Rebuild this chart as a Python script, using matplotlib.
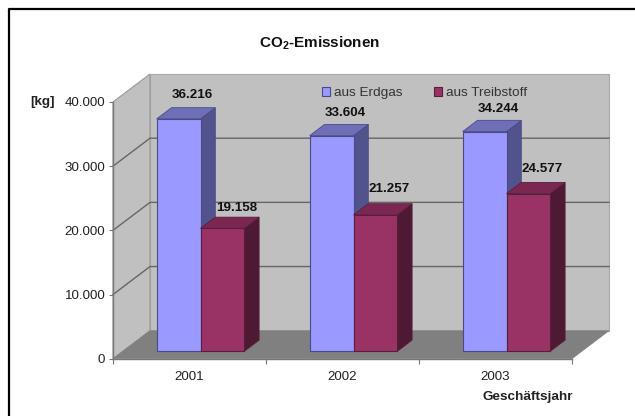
import matplotlib
matplotlib.use("Agg")
import matplotlib.pyplot as plt
from matplotlib.patches import Polygon, Patch
from matplotlib.lines import Line2D

plt.rcParams["font.family"] = ["Liberation Sans", "DejaVu Sans"]
plt.rcParams["mathtext.default"] = "regular"

# Daten
years = ["2001", "2002", "2003"]
erdgas = [36216, 33604, 34244]
treibstoff = [19158, 21257, 24577]
erdgas_labels = ["36.216", "33.604", "34.244"]
treibstoff_labels = ["19.158", "21.257", "24.577"]
y_ticks = [0, 10000, 20000, 30000, 40000]
y_tick_labels = ["0", "10.000", "20.000", "30.000", "40.000"]

# Schein-3D: Versatz der Rueckwand in Datenkoordinaten
DX = 0.2418
DY = 4361
D0, D1 = 0.264, 0.664  # Tiefe der Balken
GAP = 0.2218
WIDTH = 0.2863

# Abstand der Wertebeschriftung ueber dem Balken (Punkte)
blue_offset = [17.1, 16.3, 16.2]
red_offset = [14.6, 18.6, 17.6]


def proj(x, y, d):
    return (x + d * DX, y + d * DY)


fig = plt.figure(figsize=(6.35, 4.16), dpi=100, facecolor="white")
ax = fig.add_axes([113 / 635, (416 - 358.7) / 416, 459 / 635, 256.7 / 416])
ax.set_xlim(0, 3)
ax.set_ylim(0, 40000)
ax.patch.set_visible(False)

# Rahmen (nur oben und links sichtbar)
fig.add_artist(Line2D([8.5 / 635, 8.5 / 635, 1], [0, (416 - 9) / 416, (416 - 9) / 416],
                      color="black", lw=1.6, transform=fig.transFigure))

# Waende und Boden
ymax = y_ticks[-1]
back = [proj(0, 0, 1), proj(3, 0, 1), proj(3, ymax, 1), proj(0, ymax, 1)]
side = [proj(0, 0, 0), proj(0, 0, 1), proj(0, ymax, 1), proj(0, ymax, 0)]
floor = [proj(0, 0, 0), proj(3, 0, 0), proj(3, 0, 1), proj(0, 0, 1)]
ax.add_patch(Polygon(back, fc="#c0c0c0", ec="#a8a8a8", lw=0.8, clip_on=False, zorder=1))
ax.add_patch(Polygon(side, fc="#c0c0c0", ec="#989898", lw=0.8, clip_on=False, zorder=1))
ax.add_patch(Polygon(floor, fc="#808080", ec="#808080", lw=0.5, clip_on=False, zorder=1.5))

# Gitterlinien
for v in y_ticks[1:-1]:
    pts = [proj(0, v, 0), proj(0, v, 1), proj(3, v, 1)]
    ax.plot([p[0] for p in pts], [p[1] for p in pts], color="#666666", lw=1.0,
            clip_on=False, zorder=1.2)


def draw_bar(x0, h, front, right, top, edge, z):
    x1 = x0 + WIDTH
    ax.add_patch(Polygon([proj(x1, 0, D0), proj(x1, 0, D1), proj(x1, h, D1), proj(x1, h, D0)],
                         fc=right, ec=edge, lw=0.6, clip_on=False, zorder=z))
    ax.add_patch(Polygon([proj(x0, h, D0), proj(x1, h, D0), proj(x1, h, D1), proj(x0, h, D1)],
                         fc=top, ec=edge, lw=0.6, clip_on=False, zorder=z))
    ax.bar(x0 + D0 * DX, h, WIDTH, bottom=D0 * DY, align="edge", color=front,
           edgecolor=edge, linewidth=0.8, clip_on=False, zorder=z + 0.1)


for i in range(len(years)):
    x_blue = i + GAP
    x_red = x_blue + WIDTH
    draw_bar(x_blue, erdgas[i], "#9999ff", "#52528c", "#6f6fb8", "#4a4a88", 2 + i)
    draw_bar(x_red, treibstoff[i], "#993366", "#4e1a33", "#7a2852", "#5a1d3c", 2.3 + i)

    # Beschriftung der Werte
    ax.annotate(erdgas_labels[i], (x_blue + D0 * DX + WIDTH / 2, erdgas[i] + D0 * DY),
                xytext=(10, blue_offset[i]), textcoords="offset points", ha="center", va="center",
                fontsize=9.6, fontweight="bold", color="#111111", zorder=10,
                annotation_clip=False)
    ax.annotate(treibstoff_labels[i], (x_red + D0 * DX + WIDTH / 2, treibstoff[i] + D0 * DY),
                xytext=(10, red_offset[i]), textcoords="offset points", ha="center", va="center",
                fontsize=9.6, fontweight="bold", color="#111111", zorder=10,
                annotation_clip=False)

# Achsen
for s in ["top", "right"]:
    ax.spines[s].set_visible(False)
for s in ["left", "bottom"]:
    ax.spines[s].set_color("#777777")
    ax.spines[s].set_linewidth(1.0)
    ax.spines[s].set_zorder(1.8)
ax.set_yticks(y_ticks)
ax.set_yticklabels(y_tick_labels, fontsize=9.6, color="#222222")
ax.set_xticks([0, 1, 2, 3])
ax.set_xticklabels([])
ax.set_xticks([0.5, 1.5, 2.5], minor=True)
ax.set_xticklabels(years, minor=True, fontsize=9.6, color="#222222")
ax.tick_params(axis="x", which="minor", length=0, pad=9)
ax.tick_params(axis="x", which="major", length=3.5, width=0.8, color="#777777")
ax.tick_params(axis="y", length=3, width=0.8, color="#777777", pad=2.5)

# Titel und Achsentitel
fig.text(320 / 635, 1 - 43 / 416, "CO$_2$-Emissionen", ha="center", va="center",
         fontsize=11, fontweight="bold", color="#111111")
fig.text(42.5 / 635, 1 - 102 / 416, "[kg]", ha="center", va="center",
         fontsize=9.6, fontweight="bold", color="#222222")
fig.text(528 / 635, 1 - 397 / 416, "Geschäftsjahr", ha="center", va="center",
         fontsize=9.7, fontweight="bold", color="#222222")

# Legende
handles = [Patch(fc="#9999ff", ec="#4a4a88", lw=0.8, label="aus Erdgas"),
           Patch(fc="#993366", ec="#5a1d3c", lw=0.8, label="aus Treibstoff")]
leg = ax.legend(handles=handles, ncol=2, frameon=False, fontsize=9.7,
                loc="center left", bbox_to_anchor=((322 - 113) / 459, (358.7 - 93) / 256.7),
                borderaxespad=0, borderpad=0, handlelength=0.6, handleheight=0.6,
                handletextpad=0.3, columnspacing=2.35, labelcolor="#333333")
leg.set_zorder(11)

fig.savefig("out.png", dpi=100)
